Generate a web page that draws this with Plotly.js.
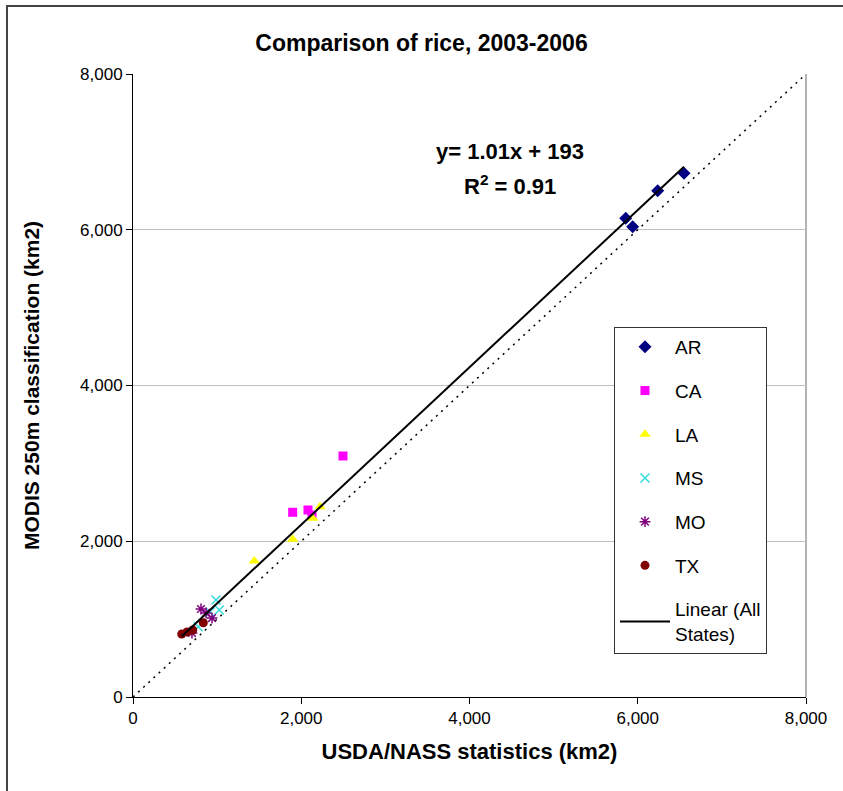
<!DOCTYPE html>
<html>
<head>
<meta charset="utf-8">
<script src="https://cdn.plot.ly/plotly-3.0.1.min.js"></script>
<style>
  html, body { margin: 0; padding: 0; background: #ffffff; overflow: hidden; }
  #chart { width: 843px; height: 791px; }
  #frame { position: absolute; left: 6px; top: 5px; width: 900px; height: 900px;
           border: 2px solid #444444; pointer-events: none; }
</style>
</head>
<body>
<div id="chart"></div>
<div id="frame"></div>
<script>
// Rice area by state, 2003-2006: USDA/NASS statistics (x) vs MODIS 250m classification (y), km2
const arX = [6550, 6237, 5857, 5940];
const arY = [6725, 6502, 6147, 6039];

const caX = [2496, 1898, 2080, 2128];
const caY = [3095, 2372, 2401, 2337];

const laX = [1442, 1898, 2136, 2223];
const laY = [1746, 2025, 2295, 2444];

const msX = [987, 1026, 776, 915];
const msY = [1246, 1117, 903, 1091];

const moX = [808, 868, 939, 701];
const moY = [1130, 1079, 1014, 822];

const txX = [579, 710, 836, 642];
const txY = [809, 860, 954, 835];

// Linear fit over all states
const fitSlope = 1.01;
const fitIntercept = 193;
const fitR2 = 0.91;

const axisMax = 8000;
const tickVals = [0, 2000, 4000, 6000, 8000];
const tickText = ['0', '2,000', '4,000', '6,000', '8,000'];

const allX = [].concat(arX, caX, laX, msX, moX, txX);
const fitX = [Math.min.apply(null, allX), Math.max.apply(null, allX)];
const fitY = fitX.map(v => fitSlope * v + fitIntercept);

const FONT = 'Liberation Sans, Arial, sans-serif';

const traces = [
  { x: [0, axisMax], y: [0, axisMax], mode: 'lines', showlegend: false, hoverinfo: 'skip',
    line: { color: '#000000', width: 1.5, dash: '2px,5px' } },
  { name: 'AR', x: arX, y: arY, mode: 'markers',
    marker: { symbol: 'diamond', size: 10, color: '#000080' } },
  { name: 'CA', x: caX, y: caY, mode: 'markers',
    marker: { symbol: 'square', size: 9, color: '#ff00ff' } },
  { name: 'LA', x: laX, y: laY, mode: 'markers',
    marker: { symbol: 'triangle-up', size: 10, color: '#ffff00' } },
  { name: 'MS', x: msX, y: msY, mode: 'markers',
    marker: { symbol: 'x-thin-open', size: 9, color: '#33dddd', line: { color: '#33dddd', width: 1.5 } } },
  { name: 'MO', x: moX, y: moY, mode: 'markers',
    marker: { symbol: 'asterisk-open', size: 9, color: '#800080', line: { color: '#800080', width: 1.5 } } },
  { name: 'TX', x: txX, y: txY, mode: 'markers',
    marker: { symbol: 'circle', size: 9, color: '#800000' } },
  { name: 'Linear (All<br>States)', x: fitX, y: fitY, mode: 'lines',
    line: { color: '#000000', width: 2 } }
];
traces.forEach((t, i) => { t.legendgroup = 'g' + i; });

const layout = {
  width: 843, height: 791,
  margin: { l: 133, r: 37, t: 74, b: 94 },
  paper_bgcolor: '#ffffff', plot_bgcolor: '#ffffff',
  font: { family: FONT, color: '#000000', size: 17 },
  title: { text: '<b>Comparison of rice, 2003-2006</b>', font: { family: FONT, size: 23, color: '#000000' },
           xref: 'container', x: 0.5, xanchor: 'center', yref: 'container', y: 1 - 43 / 791, yanchor: 'middle' },
  xaxis: {
    range: [0, axisMax], tickvals: tickVals, ticktext: tickText,
    showgrid: false, zeroline: false, showline: true, linecolor: '#000000', linewidth: 1,
    ticks: 'outside', ticklen: 6, tickcolor: '#000000', tickfont: { size: 17 },
    title: { text: '<b>USDA/NASS statistics (km2)</b>', font: { size: 22 }, standoff: 16 }
  },
  yaxis: {
    range: [0, axisMax], tickvals: tickVals, ticktext: tickText,
    showgrid: true, gridcolor: '#bfbfbf', gridwidth: 1, zeroline: false,
    showline: true, linecolor: '#000000', linewidth: 1,
    ticks: 'outside', ticklen: 6, tickcolor: '#000000', tickfont: { size: 17 },
    title: { text: '<b>MODIS 250m classification (km2)</b>', font: { size: 21 }, standoff: 34 }
  },
  shapes: [
    { type: 'line', xref: 'paper', yref: 'paper', x0: 1, x1: 1, y0: 0, y1: 1,
      line: { color: '#999999', width: 1.5 }, layer: 'below' }
  ],
  legend: {
    x: (614 - 133) / 673, y: (697 - 327) / 623, xanchor: 'left', yanchor: 'top',
    bgcolor: '#ffffff', bordercolor: '#333333', borderwidth: 1,
    font: { family: FONT, size: 19, color: '#000000' },
    tracegroupgap: 16, itemwidth: 50, traceorder: 'grouped'
  },
  annotations: [
    { xref: 'paper', yref: 'paper', x: (510 - 133) / 673, y: (697 - 152) / 623,
      text: '<b>y= ' + fitSlope.toFixed(2) + 'x + ' + fitIntercept + '</b>', showarrow: false,
      font: { size: 22 }, xanchor: 'center', yanchor: 'middle' },
    { xref: 'paper', yref: 'paper', x: (510 - 133) / 673, y: (697 - 185) / 623,
      text: '<b>R<sup>2</sup> = ' + fitR2.toFixed(2) + '</b>', showarrow: false,
      font: { size: 22 }, xanchor: 'center', yanchor: 'middle' }
  ]
};

Plotly.newPlot('chart', traces, layout, { displayModeBar: false, staticPlot: true });
</script>
</body>
</html>
